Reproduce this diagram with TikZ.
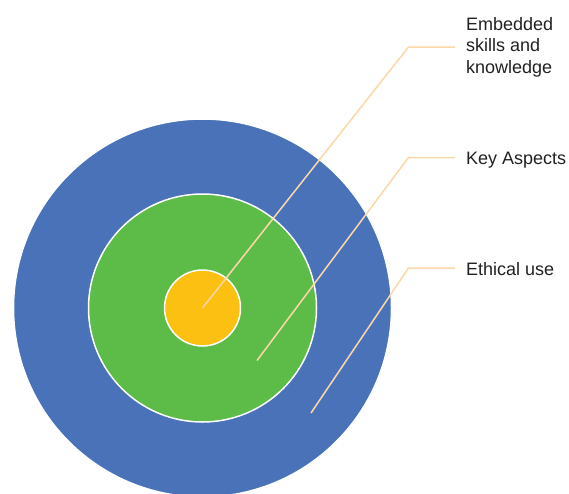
\documentclass[tikz,border=0pt]{standalone}
\usepackage{fontspec}
\setmainfont{Liberation Sans}
\definecolor{ringblue}{RGB}{74,114,184}
\definecolor{ringgreen}{RGB}{93,187,72}
\definecolor{ringyellow}{RGB}{252,192,18}
\definecolor{leader}{RGB}{252,216,168}
\definecolor{labeltext}{RGB}{34,34,34}
\begin{document}
\begin{tikzpicture}[x=1pt,y=-1pt,
  ring/.style={circle,inner sep=0pt,draw=white,line width=1.5pt},
  leaderline/.style={draw=leader,line width=1.5pt},
  lbl/.style={anchor=base west,align=left,inner sep=0pt,text=labeltext,
    font=\fontsize{18pt}{21.7pt}\selectfont}]
\useasboundingbox (0,0) rectangle (569,493);
\clip (0,0) rectangle (569,493);
\fill[white] (0,0) rectangle (569,493);
\node[ring,fill=ringblue,minimum size=378pt] (outer) at (202.5,308) {};
\node[ring,fill=ringgreen,minimum size=228pt] (middle) at (202.5,308) {};
\node[ring,fill=ringyellow,minimum size=76pt] (inner) at (202.5,308) {};
\coordinate (s2) at (257,360.5);
\coordinate (s3) at (311,413);
\coordinate (b1) at (408.5,47);
\coordinate (b2) at (408.5,157.5);
\coordinate (b3) at (408.5,268);
\coordinate (e1) at (455,47);
\coordinate (e2) at (455,157.5);
\coordinate (e3) at (455,268);
\node[lbl] (l1) at (466,73.4) {Embedded\\skills and\\knowledge};
\node[lbl] (l2) at (466,164) {Key Aspects};
\node[lbl] (l3) at (466,275) {Ethical use};
\draw[leaderline] (inner.center) -- (b1) -- (e1);
\draw[leaderline] (s2) -- (b2) -- (e2);
\draw[leaderline] (s3) -- (b3) -- (e3);
\end{tikzpicture}
\end{document}
